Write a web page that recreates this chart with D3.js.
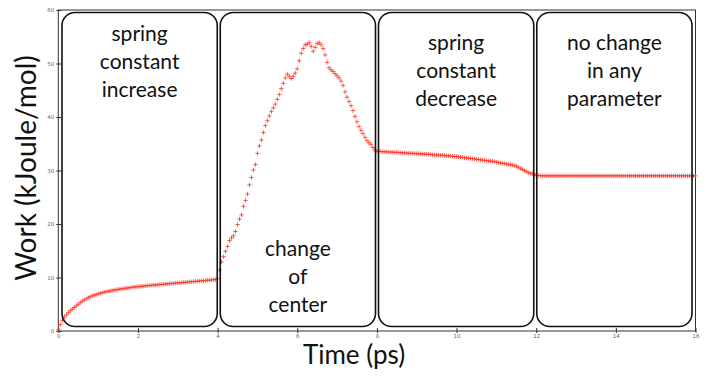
<!DOCTYPE html>
<html>
<head>
<meta charset="utf-8">
<script src="https://cdn.jsdelivr.net/npm/d3@7"></script>
<style>
  html, body { margin: 0; padding: 0; background: #fff; }
  svg { display: block; }
</style>
</head>
<body>
<svg id="chart" width="706" height="379"></svg>
<script>
// ---------- DATA ----------
const timeStep = 0.05; // ps between samples
const phaseStarts = [0, 4.05, 8.05, 12.05];

// Work (kJ/mol), phase 1: spring constant increase, t = 0.00 .. 4.00
const workPhase1 = [
  0.2, 1.2, 2.0, 2.6, 3.0, 3.4, 3.8, 4.1, 4.4, 4.7,
  5.0, 5.3, 5.6, 5.8, 6.0, 6.2, 6.4, 6.55, 6.7, 6.8,
  6.95, 7.05, 7.15, 7.25, 7.35, 7.4, 7.5, 7.55, 7.65, 7.7,
  7.75, 7.85, 7.9, 7.95, 8.0, 8.05, 8.1, 8.15, 8.2, 8.25,
  8.3, 8.35, 8.35, 8.4, 8.45, 8.5, 8.5, 8.55, 8.6, 8.6,
  8.65, 8.7, 8.7, 8.75, 8.8, 8.8, 8.85, 8.9, 8.9, 8.95,
  9.0, 9.0, 9.05, 9.1, 9.1, 9.15, 9.2, 9.2, 9.25, 9.3,
  9.3, 9.35, 9.4, 9.4, 9.45, 9.5, 9.5, 9.55, 9.6, 9.6,
  9.8
];
// phase 2: change of center, t = 4.05 .. 8.00
const workPhase2 = [
  11.4, 12.9, 13.9, 14.9, 15.8, 16.9, 17.4, 17.8, 18.6, 19.9,
  20.9, 21.7, 23.3, 24.4, 25.6, 27.3, 28.7, 30.1, 31.1, 33.2,
  34.6, 35.7, 37.1, 38.4, 39.3, 40.2, 41.0, 41.7, 42.4, 43.3,
  44.2, 45.3, 46.3, 47.3, 48.0, 47.6, 47.2, 47.6, 48.2, 49.0,
  50.5, 51.9, 52.8, 53.5, 53.6, 53.9, 53.2, 52.3, 53.0, 53.7,
  53.9, 53.5, 52.8, 51.6, 50.2, 49.2, 48.8, 48.5, 48.1, 47.7,
  47.3, 46.7, 45.9, 44.7, 43.7, 42.9, 42.1, 41.2, 40.1, 39.1,
  38.2, 37.5, 36.9, 36.2, 35.6, 35.2, 34.9, 34.3, 33.8, 33.6
];
// phase 3: spring constant decrease, t = 8.05 .. 12.00
const workPhase3 = [
  33.55, 33.55, 33.5, 33.5, 33.5, 33.45, 33.45, 33.4, 33.4, 33.4,
  33.35, 33.35, 33.3, 33.3, 33.25, 33.25, 33.2, 33.2, 33.2, 33.15,
  33.15, 33.1, 33.1, 33.05, 33.05, 33.0, 33.0, 32.95, 32.95, 32.9,
  32.9, 32.85, 32.85, 32.8, 32.75, 32.75, 32.7, 32.65, 32.6, 32.6,
  32.55, 32.5, 32.45, 32.4, 32.35, 32.3, 32.25, 32.2, 32.15, 32.1,
  32.05, 32.0, 31.95, 31.9, 31.85, 31.8, 31.75, 31.7, 31.65, 31.55,
  31.5, 31.4, 31.35, 31.3, 31.2, 31.15, 31.1, 31.0, 30.9, 30.8,
  30.6, 30.4, 30.2, 30.0, 29.8, 29.6, 29.5, 29.4, 29.3, 29.1
];
// phase 4: no change in any parameter, t = 12.05 .. 16.00
const workPhase4 = [
  29.05, 29.05, 29.0, 29.0, 29.0, 29.0, 29.0, 29.0, 29.0, 29.0,
  29.0, 29.0, 29.0, 29.0, 29.0, 29.0, 29.0, 29.0, 29.0, 29.0,
  29.0, 29.0, 29.0, 29.0, 29.0, 29.0, 29.0, 29.0, 29.0, 29.0,
  29.0, 29.0, 29.0, 29.0, 29.0, 29.0, 29.0, 29.0, 29.0, 29.0,
  29.0, 29.0, 29.0, 29.0, 29.0, 29.0, 29.0, 29.0, 29.0, 29.0,
  29.0, 29.0, 29.0, 29.0, 29.0, 29.0, 29.0, 29.0, 29.0, 29.0,
  29.0, 29.0, 29.0, 29.0, 29.0, 29.0, 29.0, 29.0, 29.0, 29.0,
  29.0, 29.0, 29.0, 29.0, 29.0, 29.0, 29.0, 29.0, 29.0, 29.0
];

const xTicks = [0, 2, 4, 6, 8, 10, 12, 14, 16];
const yTicks = [0, 10, 20, 30, 40, 50, 60];
const xTitle = "Time (ps)";
const yTitle = "Work (kJoule/mol)";

const phaseLabels = [
  ["spring", "constant", "increase"],
  ["change", "of", "center"],
  ["spring", "constant", "decrease"],
  ["no change", "in any", "parameter"]
];

// ---------- LAYOUT ----------
const svg = d3.select("#chart");
const x = d3.scaleLinear().domain([0, 16]).range([58.3, 695.5]);
const y = d3.scaleLinear().domain([0, 60]).range([331, 10]);

const points = [];
[workPhase1, workPhase2, workPhase3, workPhase4].forEach((arr, p) => {
  arr.forEach((v, i) => points.push({ t: phaseStarts[p] + i * timeStep, w: v }));
});

// frame
svg.append("rect")
  .attr("x", x(0)).attr("y", y(60))
  .attr("width", x(16) - x(0)).attr("height", y(0) - y(60))
  .attr("fill", "none").attr("stroke", "#333").attr("stroke-width", 1);

// axes
const gx = svg.append("g").attr("transform", `translate(0,${y(0)})`)
  .call(d3.axisBottom(x).tickValues(xTicks).tickFormat(d3.format("d")).tickSize(3).tickPadding(2));
gx.select(".domain").remove();
gx.selectAll(".tick line").attr("y1", 2).attr("y2", -3).attr("stroke", "#333");
gx.selectAll(".tick text").attr("y", 3.5).attr("font-size", 5.5)
  .attr("font-family", "DejaVu Sans, sans-serif").attr("fill", "#666");

const gy = svg.append("g").attr("transform", `translate(${x(0)},0)`)
  .call(d3.axisLeft(y).tickValues(yTicks).tickFormat(d3.format("d")).tickSize(3).tickPadding(2));
gy.select(".domain").remove();
gy.selectAll(".tick line").attr("x1", -2).attr("x2", 3).attr("stroke", "#333");
gy.selectAll(".tick text").attr("x", -4).attr("font-size", 5.5)
  .attr("font-family", "DejaVu Sans, sans-serif").attr("fill", "#666");

// data markers (+)
svg.append("g").selectAll("path")
  .data(points).join("path")
  .attr("transform", d => `translate(${x(d.t)},${y(d.w)})`)
  .attr("d", "M-2.2,0H2.2M0,-2.2V2.2")
  .attr("fill", "none")
  .attr("stroke", "#ff2a1a")
  .attr("stroke-opacity", 0.75)
  .attr("stroke-width", 1);

// phase boxes
const boxLeft = 62, boxRight = 692, boxGap = 3, boxTop = 12.5, boxBottom = 326.5;
const boxW = (boxRight - boxLeft - 3 * boxGap) / 4;
const labelBaselines = [[41, 69, 97], [256, 284, 312], [50, 78, 106], [50, 78, 106]];
phaseLabels.forEach((lines, i) => {
  const bx = boxLeft + i * (boxW + boxGap);
  svg.append("rect")
    .attr("x", bx).attr("y", boxTop)
    .attr("width", boxW).attr("height", boxBottom - boxTop)
    .attr("rx", 13).attr("ry", 13)
    .attr("fill", "none").attr("stroke", "#111").attr("stroke-width", 1.6);
  lines.forEach((ln, j) => {
    svg.append("text")
      .attr("x", bx + boxW / 2).attr("y", labelBaselines[i][j])
      .attr("text-anchor", "middle")
      .attr("font-family", "Lato, 'Open Sans', sans-serif")
      .attr("font-size", 21)
      .attr("fill", "#111")
      .text(ln);
  });
});

// titles
svg.append("text")
  .attr("x", 354).attr("y", 364)
  .attr("text-anchor", "middle")
  .attr("font-family", "Lato, 'Open Sans', sans-serif")
  .attr("font-size", 26).attr("fill", "#111")
  .text(xTitle);

svg.append("text")
  .attr("transform", `translate(36,168) rotate(-90)`)
  .attr("text-anchor", "middle")
  .attr("font-family", "Lato, 'Open Sans', sans-serif")
  .attr("font-size", 28).attr("fill", "#111")
  .text(yTitle);
</script>
</body>
</html>
